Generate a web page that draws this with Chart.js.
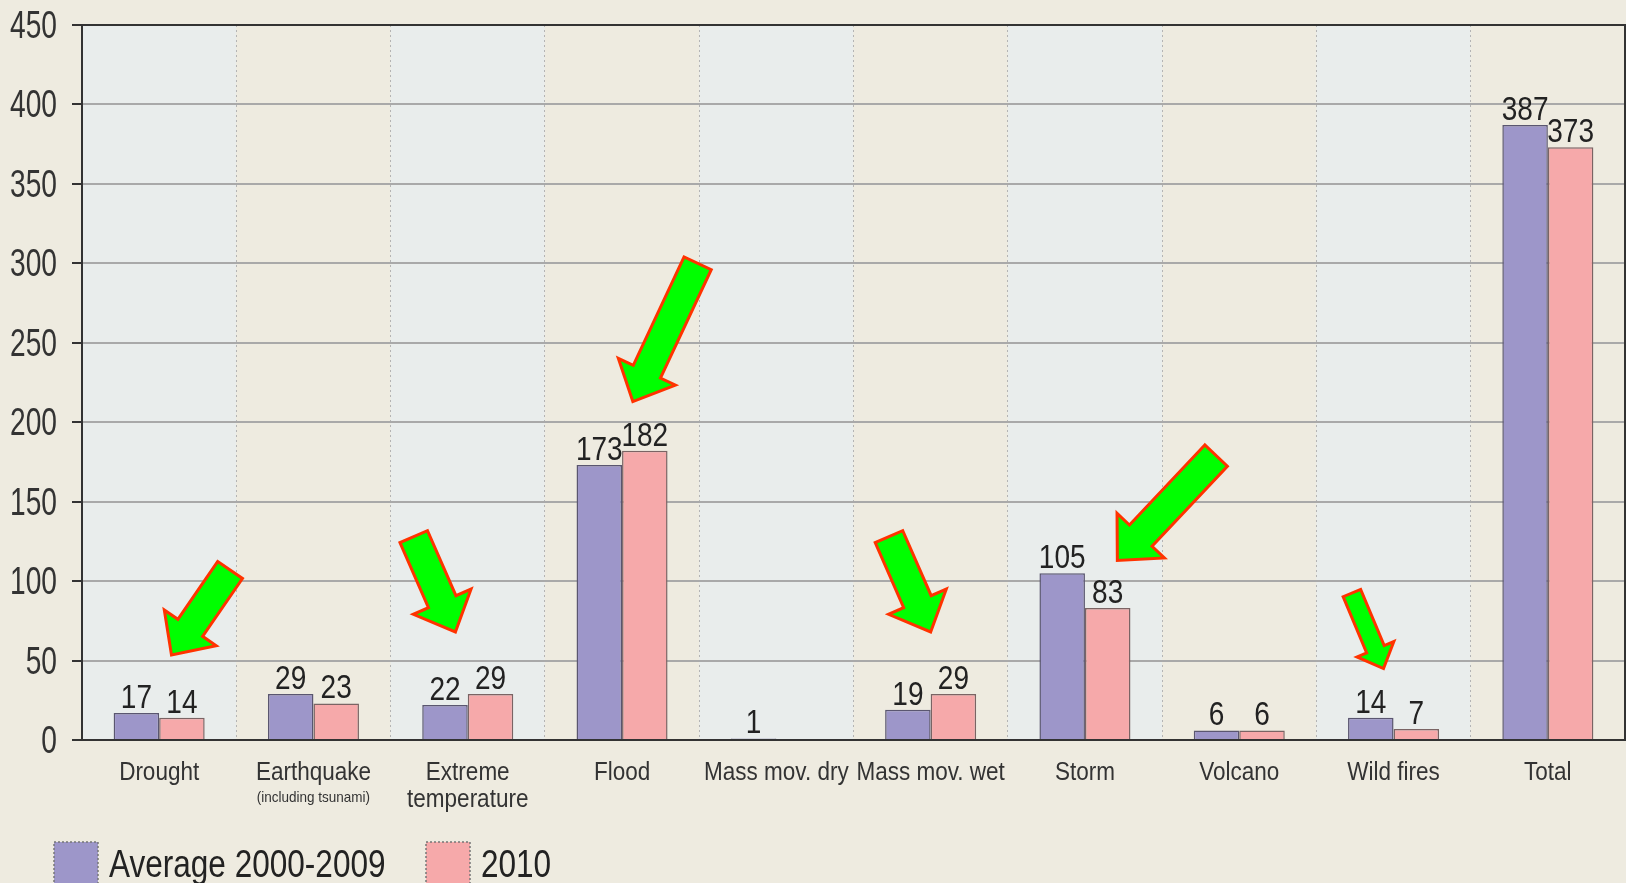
<!DOCTYPE html>
<html>
<head>
    <title>Natural disasters: 2010 vs average 2000-2009</title>
    <script src="https://cdn.jsdelivr.net/npm/chart.js"></script>
    <style>
        html, body {
            margin: 0;
            padding: 0;
            background-color: #EEEBE0;
            overflow: hidden;
        }
        #wrap {
            position: relative;
            width: 1626px;
            height: 883px;
        }
    </style>
</head>
<body>
    <div id="wrap">
        <canvas id="disasterChart"></canvas>
    </div>
    <script>
        // data
        const categories = ["Drought", "Earthquake", ["Extreme", "temperature"], "Flood", "Mass mov. dry",
            "Mass mov. wet", "Storm", "Volcano", "Wild fires", "Total"];
        const categoryNotes = ["", "(including tsunami)", "", "", "", "", "", "", "", ""];
        const average2000to2009 = [17, 29, 22, 173, 1, 19, 105, 6, 14, 387];
        const values2010 = [14, 23, 29, 182, 0, 29, 83, 6, 7, 373];
        const seriesNames = ["Average 2000-2009", "2010"];
        const yMax = 450;
        const yStep = 50;

        // green arrows: category index, offset in category widths, value on the y axis
        const highlightArrows = [
            { cat: 0, tailDx: 0.46, tailV: 107, tipDx: 0.08, tipV: 53.5, w: 30 },
            { cat: 2, tailDx: -0.35, tailV: 128, tipDx: -0.08, tipV: 68, w: 30 },
            { cat: 3, tailDx: 0.49, tailV: 300, tipDx: 0.07, tipV: 213, w: 30 },
            { cat: 5, tailDx: -0.27, tailV: 128, tipDx: 0, tipV: 68, w: 30 },
            { cat: 6, tailDx: 0.85, tailV: 179, tipDx: 0.21, tipV: 113, w: 31 },
            { cat: 8, tailDx: -0.27, tailV: 92.5, tipDx: -0.065, tipV: 45, w: 19 }
        ];

        const FONT = "'Liberation Sans', Arial, sans-serif";
        const PAGE_BG = "#EEEBE0";
        const BAND_A = "#E9EDEC";
        const BAND_B = "#EEEBE0";

        function catWidth(x) {
            return x.getPixelForValue(1) - x.getPixelForValue(0);
        }

        // condensed text: regular face squeezed sideways
        function narrowText(ctx, text, x, y, size, squeeze, align) {
            ctx.save();
            ctx.font = size + "px " + FONT;
            ctx.textAlign = align || "center";
            ctx.translate(x, y);
            ctx.scale(squeeze, 1);
            ctx.fillText(text, 0, 0);
            ctx.restore();
        }

        const bandsPlugin = {
            id: "bands",
            beforeDraw(chart) {
                const ctx = chart.ctx;
                const area = chart.chartArea;
                const x = chart.scales.x;
                const half = catWidth(x) / 2;
                ctx.save();
                ctx.fillStyle = PAGE_BG;
                ctx.fillRect(0, 0, chart.width, chart.height);
                categories.forEach((c, i) => {
                    const cx = x.getPixelForValue(i);
                    ctx.fillStyle = i % 2 === 0 ? BAND_A : BAND_B;
                    ctx.fillRect(cx - half, area.top, half * 2, area.bottom - area.top);
                });
                ctx.restore();
            }
        };

        function drawArrow(ctx, tx, ty, px, py, w) {
            const len = Math.hypot(px - tx, py - ty);
            const ux = (px - tx) / len, uy = (py - ty) / len;
            const nx = -uy, ny = ux;
            const hl = w * 1.1, hw = w * 2.1;
            const bx = px - ux * hl, by = py - uy * hl;
            ctx.beginPath();
            ctx.moveTo(tx + nx * w / 2, ty + ny * w / 2);
            ctx.lineTo(bx + nx * w / 2, by + ny * w / 2);
            ctx.lineTo(bx + nx * hw / 2, by + ny * hw / 2);
            ctx.lineTo(px, py);
            ctx.lineTo(bx - nx * hw / 2, by - ny * hw / 2);
            ctx.lineTo(bx - nx * w / 2, by - ny * w / 2);
            ctx.lineTo(tx - nx * w / 2, ty - ny * w / 2);
            ctx.closePath();
            ctx.fillStyle = "#00FF00";
            ctx.fill();
            ctx.lineWidth = 3;
            ctx.lineJoin = "miter";
            ctx.strokeStyle = "#FF3300";
            ctx.stroke();
        }

        const extrasPlugin = {
            id: "extras",
            afterDatasetsDraw(chart) {
                const ctx = chart.ctx;
                const area = chart.chartArea;
                const x = chart.scales.x;
                const y = chart.scales.y;
                ctx.save();

                // top and right frame
                ctx.strokeStyle = "#333";
                ctx.lineWidth = 2;
                ctx.beginPath();
                ctx.moveTo(area.left, area.top);
                ctx.lineTo(area.right, area.top);
                ctx.lineTo(area.right, area.bottom);
                ctx.stroke();

                ctx.textBaseline = "alphabetic";

                // y tick labels
                ctx.fillStyle = "#333";
                y.ticks.forEach(t => {
                    narrowText(ctx, t.label, y.right - 25, y.getPixelForValue(t.value) + 13, 38, 0.74, "right");
                });

                // category labels (+ small notes)
                chart.data.labels.forEach((lab, i) => {
                    const cx = x.getPixelForValue(i);
                    const lines = Array.isArray(lab) ? lab : [lab];
                    lines.forEach((ln, k) => {
                        narrowText(ctx, ln, cx, x.top + 40 + k * 27, 25, 0.9, "center");
                    });
                    if (categoryNotes[i]) {
                        narrowText(ctx, categoryNotes[i], cx, x.top + 62, 15, 0.9, "center");
                    }
                });

                // value labels
                ctx.fillStyle = "#222";
                chart.data.datasets.forEach((ds, di) => {
                    chart.getDatasetMeta(di).data.forEach((bar, i) => {
                        if (!ds.data[i]) return;
                        narrowText(ctx, String(ds.data[i]), bar.x, bar.y - 5, 33, 0.85, "center");
                    });
                });

                // arrows
                const cw = catWidth(x);
                highlightArrows.forEach(a => {
                    const cx = x.getPixelForValue(a.cat);
                    drawArrow(ctx,
                        cx + a.tailDx * cw, y.getPixelForValue(a.tailV),
                        cx + a.tipDx * cw, y.getPixelForValue(a.tipV), a.w);
                });
                ctx.restore();
            },
            afterDraw(chart) {
                // legend along the bottom edge
                const ctx = chart.ctx;
                const boxX = [54, 426];
                const boxTop = chart.height - 41;
                ctx.save();
                chart.data.datasets.forEach((ds, i) => {
                    ctx.fillStyle = ds.backgroundColor;
                    ctx.fillRect(boxX[i], boxTop, 44, 44);
                    ctx.strokeStyle = "#777";
                    ctx.lineWidth = 1.5;
                    ctx.setLineDash([2, 2]);
                    ctx.strokeRect(boxX[i], boxTop, 44, 44);
                    ctx.setLineDash([]);
                    ctx.fillStyle = "#222";
                    narrowText(ctx, ds.label, boxX[i] + 55, chart.height - 6, 38, 0.83, "left");
                });
                ctx.restore();
            }
        };

        const ctx = document.getElementById("disasterChart").getContext("2d");
        const disasterChart = new Chart(ctx, {
            type: "bar",
            data: {
                labels: categories,
                datasets: [{
                    label: seriesNames[0],
                    data: average2000to2009,
                    backgroundColor: "#9D96C9",
                    borderColor: "#5A5670",
                    borderWidth: 1.5
                }, {
                    label: seriesNames[1],
                    data: values2010,
                    backgroundColor: "#F6A9AA",
                    borderColor: "#7A6464",
                    borderWidth: 1.5
                }]
            },
            options: {
                responsive: true,
                maintainAspectRatio: false,
                animation: false,
                layout: {
                    padding: { top: 25, left: 8, right: 1, bottom: 71 }
                },
                datasets: {
                    bar: {
                        categoryPercentage: 0.59,
                        barPercentage: 1.0
                    }
                },
                plugins: {
                    legend: { display: false },
                    tooltip: { enabled: false }
                },
                scales: {
                    x: {
                        offset: true,
                        afterFit(scale) {
                            scale.height = 72;
                        },
                        grid: {
                            offset: true,
                            color: "#B4B4B4",
                            lineWidth: 1,
                            drawTicks: false
                        },
                        border: {
                            color: "#333",
                            width: 2,
                            dash: [2, 3]
                        },
                        ticks: {
                            display: false,
                            autoSkip: false
                        }
                    },
                    y: {
                        min: 0,
                        max: yMax,
                        afterFit(scale) {
                            scale.width = 74;
                        },
                        ticks: {
                            display: false,
                            stepSize: yStep
                        },
                        grid: {
                            color: (c) => (c.tick && c.tick.value === yMax ? "#333" : "#A9A9A9"),
                            lineWidth: 2,
                            tickLength: 10,
                            tickColor: "#333",
                            tickWidth: 2
                        },
                        border: {
                            color: "#333",
                            width: 2
                        }
                    }
                }
            },
            plugins: [bandsPlugin, extrasPlugin]
        });
    </script>
</body>
</html>
